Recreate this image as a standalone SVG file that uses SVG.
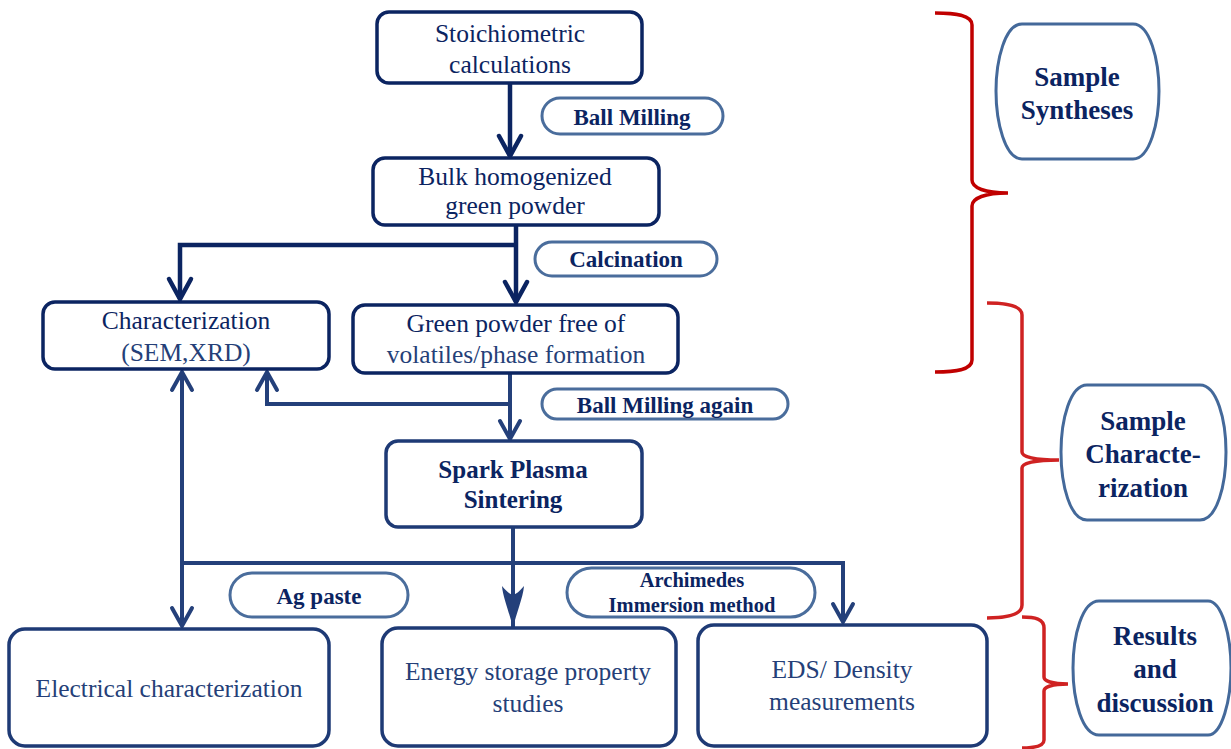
<svg xmlns="http://www.w3.org/2000/svg" width="1231" height="749" viewBox="0 0 1231 749">
<style>
.box{fill:#fff;stroke:#0b2461;stroke-width:3.5}
.box2{fill:#fff;stroke:#1e3a75;stroke-width:3.5}
.pill{fill:#fff;stroke:#4a6d9c;stroke-width:3}
.side{fill:#fff;stroke:#44699a;stroke-width:3}
.t{font-family:"Liberation Serif","Times New Roman",serif;font-size:25.5px;fill:#0b2461;text-anchor:middle}
.t2{font-family:"Liberation Serif","Times New Roman",serif;font-size:25.5px;fill:#253f78;text-anchor:middle}
.b{font-family:"Liberation Serif","Times New Roman",serif;font-weight:bold;font-size:23px;fill:#0b2461;text-anchor:middle}
.bs{font-family:"Liberation Serif","Times New Roman",serif;font-weight:bold;font-size:20.5px;fill:#0b2461;text-anchor:middle}
.bl{font-family:"Liberation Serif","Times New Roman",serif;font-weight:bold;font-size:27px;fill:#0b2461;text-anchor:middle}
.c{fill:none;stroke:#0b2461;stroke-width:4.5}
.c2{fill:none;stroke:#24407a;stroke-width:4}
.br{fill:none;stroke:#c00000;stroke-width:3.5}
.br2{fill:none;stroke:#cf2222;stroke-width:3.5}
</style>
<defs>
<marker id="v" markerUnits="userSpaceOnUse" markerWidth="30" markerHeight="30" viewBox="-24 -15 30 30" refX="0" refY="0" orient="auto">
<path d="M-20,-11 L0,0 L-20,11" fill="none" stroke="#0b2461" stroke-width="4.5" stroke-linecap="round"/>
</marker>
<marker id="v2" markerUnits="userSpaceOnUse" markerWidth="30" markerHeight="30" viewBox="-24 -15 30 30" refX="0" refY="0" orient="auto">
<path d="M-18,-10 L0,0 L-18,10" fill="none" stroke="#24407a" stroke-width="4" stroke-linecap="round"/>
</marker>
<marker id="s" markerUnits="userSpaceOnUse" markerWidth="50" markerHeight="30" viewBox="-46 -15 50 30" refX="0" refY="0" orient="auto">
<path d="M0,0 C-14,-3 -30,-10 -42,-11 C-36,-6 -34,-3 -33,0 C-34,3 -36,6 -42,11 C-30,10 -14,3 0,0 Z" fill="#24407a"/>
</marker>
</defs>

<g id="connectors">
<path class="c" d="M510,83 V156" marker-end="url(#v)"/>
<path class="c" d="M516,225 V302" marker-end="url(#v)"/>
<path class="c" d="M516,245 H180 V299" marker-end="url(#v)"/>
<path class="c2" d="M510,373 V439" marker-end="url(#v2)"/>
<path class="c2" d="M510,404 H267 V372" marker-end="url(#v2)"/>
<path class="c2" d="M182,563 V372" marker-end="url(#v2)"/>
<path class="c2" d="M182,563 V626" marker-end="url(#v2)"/>
<path class="c2" d="M182,563 H843 V622" marker-end="url(#v2)"/>
<path class="c2" d="M513,527 V628" marker-end="url(#s)"/>
</g>

<g id="braces">
<path class="br" d="M935,13 C955,13 972,15 972,25 V180 C972,188 985,193 1008,193 C985,193 972,198 972,206 V360 C972,370 955,372 935,372"/>
<path class="br2" d="M987,303 C1005,303 1022,305 1022,315 V452 C1022,457 1035,460 1059,460 C1035,460 1022,463 1022,468 V605 C1022,615 1005,618 987,618"/>
<path class="br2" d="M1022,617 C1035,617 1044,619 1044,628 V677 C1044,681 1052,684 1068,684 C1052,684 1044,687 1044,691 V740 C1044,746 1035,748 1022,748"/>
</g>

<g id="n-stoich">
<rect class="box" x="377" y="12" width="265" height="71" rx="12"/>
<text class="t" x="510" y="42">Stoichiometric</text>
<text class="t" x="510" y="73">calculations</text>
</g>
<g id="l-ballmilling">
<rect class="pill" x="542" y="98" width="181" height="36" rx="18"/>
<text class="b" x="632" y="125">Ball Milling</text>
</g>
<g id="n-bulk">
<rect class="box" x="373" y="158" width="286" height="67" rx="12"/>
<text class="t" x="515" y="185">Bulk homogenized</text>
<text class="t" x="515" y="214">green powder</text>
</g>
<g id="l-calcination">
<rect class="pill" x="535" y="242" width="182" height="34" rx="17"/>
<text class="b" x="626" y="267">Calcination</text>
</g>
<g id="n-char">
<rect class="box" x="43" y="302" width="286" height="67" rx="12"/>
<text class="t" x="186" y="329">Characterization</text>
<text class="t2" x="186" y="361">(SEM,XRD)</text>
</g>
<g id="n-green">
<rect class="box" x="353" y="305" width="325" height="68" rx="12"/>
<text class="t" x="516" y="332">Green powder free of</text>
<text class="t2" x="516" y="363">volatiles/phase formation</text>
</g>
<g id="l-ballmilling-again">
<rect class="pill" x="542" y="389" width="246" height="30" rx="15"/>
<text class="b" x="665" y="413">Ball Milling again</text>
</g>
<g id="n-sps">
<rect class="box2" x="386" y="441" width="256" height="86" rx="12"/>
<text class="b" x="513" y="478" style="font-size:25px">Spark Plasma</text>
<text class="b" x="513" y="508" style="font-size:25px">Sintering</text>
</g>
<g id="l-agpaste">
<rect class="pill" x="230" y="573" width="178" height="44" rx="22"/>
<text class="b" x="319" y="604">Ag paste</text>
</g>
<g id="l-archimedes">
<rect class="pill" x="567" y="568" width="248" height="49" rx="24.5"/>
<text class="bs" x="692" y="587">Archimedes</text>
<text class="bs" x="692" y="612">Immersion method</text>
</g>
<g id="n-electrical">
<rect class="box2" x="9" y="629" width="320" height="117" rx="16"/>
<text class="t2" x="169" y="697">Electrical characterization</text>
</g>
<g id="n-energy">
<rect class="box2" x="382" y="628" width="294" height="118" rx="16"/>
<text class="t2" x="528" y="680">Energy storage property</text>
<text class="t2" x="528" y="712">studies</text>
</g>
<g id="n-eds">
<rect class="box2" x="698" y="625" width="289" height="121" rx="16"/>
<text class="t2" x="842" y="678">EDS/ Density</text>
<text class="t2" x="842" y="710">measurements</text>
</g>
<g id="n-synth">
<path class="side" d="M1022,24 H1133 C1150,24 1159,60 1159,91 C1159,122 1150,159 1133,159 H1022 C1005,159 996,122 996,91 C996,60 1005,24 1022,24 Z"/>
<text class="bl" x="1077" y="86">Sample</text>
<text class="bl" x="1077" y="119">Syntheses</text>
</g>
<g id="n-samplechar">
<path class="side" d="M1087,385 H1200 C1217,385 1226,420 1226,452 C1226,485 1217,520 1200,520 H1087 C1070,520 1061,485 1061,452 C1061,420 1070,385 1087,385 Z"/>
<text class="bl" x="1143" y="430">Sample</text>
<text class="bl" x="1143" y="463">Characte-</text>
<text class="bl" x="1143" y="497">rization</text>
</g>
<g id="n-results">
<path class="side" d="M1099,601 H1208 C1222,601 1231,636 1231,668 C1231,700 1222,735 1208,735 H1099 C1082,735 1073,700 1073,668 C1073,636 1082,601 1099,601 Z"/>
<text class="bl" x="1155" y="645">Results</text>
<text class="bl" x="1155" y="678">and</text>
<text class="bl" x="1155" y="712">discussion</text>
</g>
</svg>
